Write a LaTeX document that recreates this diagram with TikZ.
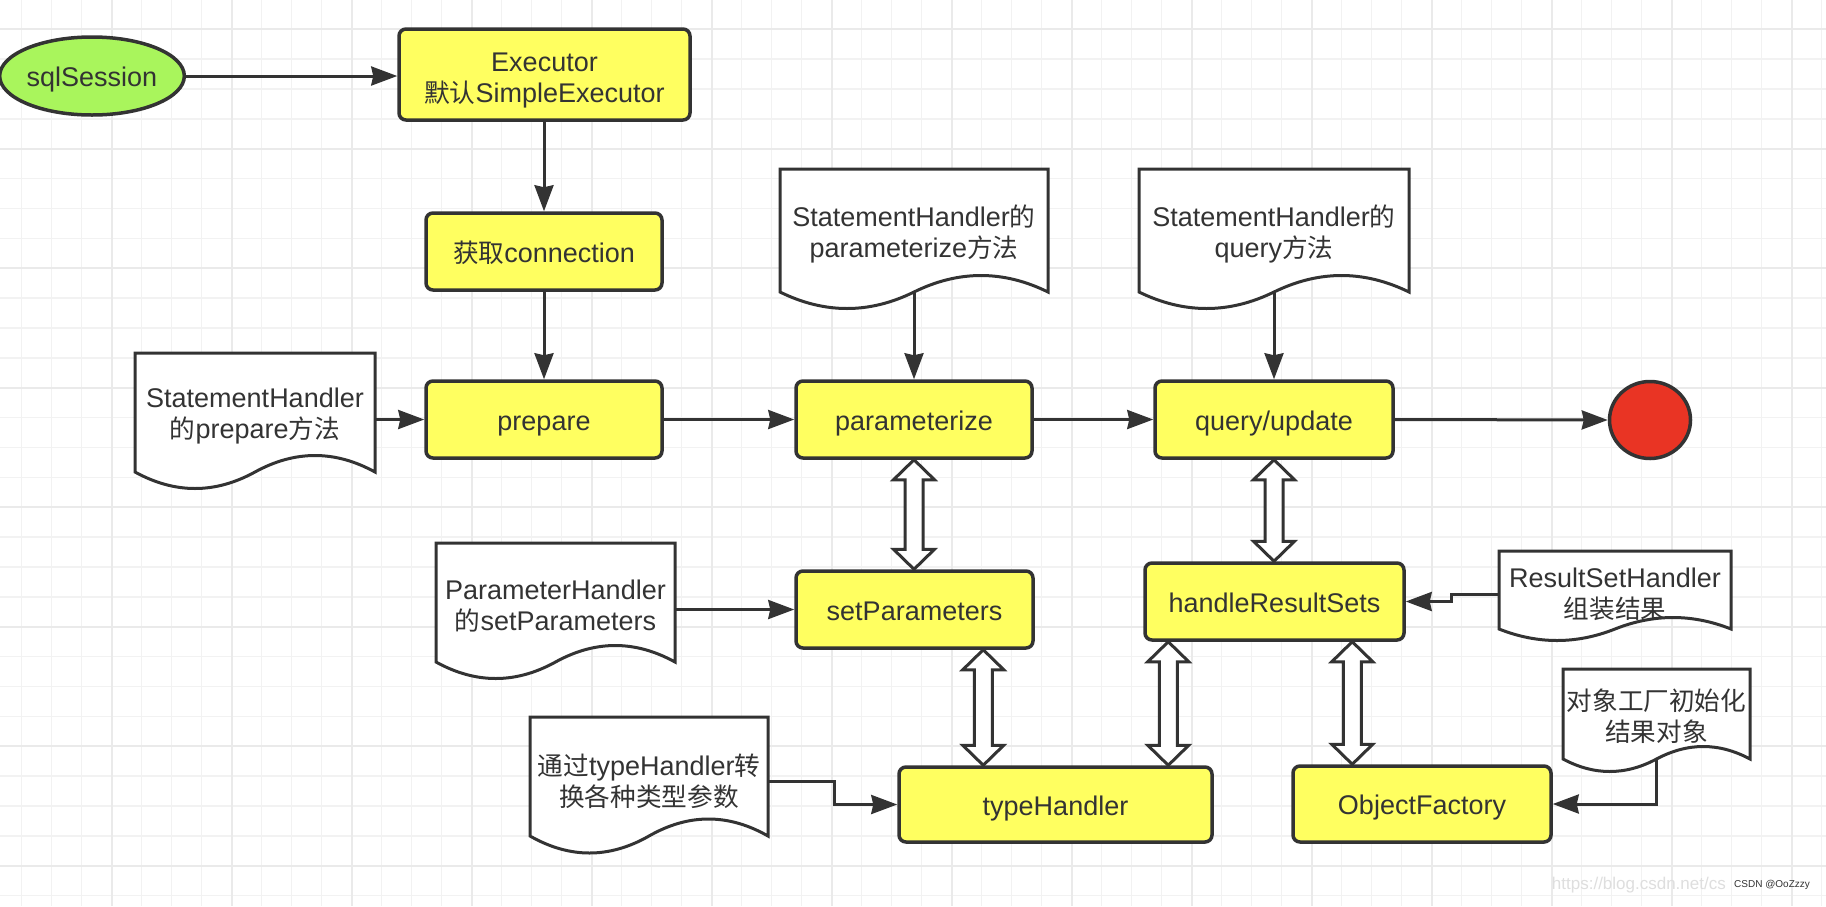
\documentclass[tikz,border=0pt]{standalone}
\usepackage{fontspec}
\setmainfont{Liberation Sans}
\newfontfamily\cjk[Scale=0.95]{Noto Sans CJK SC}
\usetikzlibrary{arrows.meta,calc,shapes.geometric}
\definecolor{ink}{HTML}{333333}
\definecolor{boxyellow}{HTML}{FFFF60}
\definecolor{startgreen}{HTML}{A9F55C}
\definecolor{endred}{HTML}{E93424}
\definecolor{gridminor}{HTML}{F2F2F2}
\definecolor{gridmajor}{HTML}{EAEAEA}
\tikzset{
 every node/.style={font=\fontsize{27}{31}\selectfont, text=ink},
 proc/.style={draw=ink, line width=3.5pt, fill=boxyellow, rounded corners=7pt, inner sep=0pt, align=center},
 oneline/.style={text height=21pt, text depth=0pt},
 doctext/.style={inner sep=0pt, align=center, text width=#1},
 docline/.style={draw=ink, line width=3pt, fill=white},
 flow/.style={draw=ink, line width=3pt, -{Stealth[length=26pt,width=19pt,inset=2pt]}},
 dblarr/.style={draw=ink, line width=3pt, fill=white, line join=miter},
 gminor/.style={draw=gridminor, line width=1.5pt},
 gmajor/.style={draw=gridmajor, line width=2.2pt}
}
\newcommand{\docshape}[5]{%
 \pgfmathsetmacro{\dsW}{#3-#1}%
 \pgfmathsetmacro{\dsM}{#1+\dsW/2}%
 \pgfmathsetmacro{\dsA}{#3-\dsW/6}%
 \pgfmathsetmacro{\dsB}{\dsM+\dsW/6}%
 \pgfmathsetmacro{\dsC}{\dsM-\dsW/6}%
 \pgfmathsetmacro{\dsD}{#1+\dsW/6}%
 \pgfmathsetmacro{\dsU}{#4-1.333*#5}%
 \pgfmathsetmacro{\dsL}{#4+1.333*#5}%
 \draw[docline] (#1,#2) -- (#3,#2) -- (#3,#4) .. controls (\dsA,\dsU) and (\dsB,\dsU) .. (\dsM,#4) .. controls (\dsC,\dsL) and (\dsD,\dsL) .. (#1,#4) -- cycle;%
}
\newcommand{\dblarrow}[2]{%
 \draw[dblarr] let \p1=(#1), \p2=(#2) in
 (\x1,\y1) -- (\x1+20.5pt,\y1-20pt) -- (\x1+9pt,\y1-20pt) -- (\x1+9pt,\y2+20pt) -- (\x1+20.5pt,\y2+20pt) -- (\x1,\y2)
 -- (\x1-20.5pt,\y2+20pt) -- (\x1-9pt,\y2+20pt) -- (\x1-9pt,\y1-20pt) -- (\x1-20.5pt,\y1-20pt) -- cycle;%
}
\begin{document}
\begin{tikzpicture}[x=1pt,y=-1pt]
\useasboundingbox (0,0) rectangle (1826,906);
\fill[white] (0,0) rectangle (1826,906);
% grid
\foreach \i in {0,...,60} \draw[gminor] ({21.6+30*\i},0) -- ({21.6+30*\i},906);
\foreach \i in {-1,...,30} \draw[gminor] (0,{29.3+29.875*\i}) -- (1826,{29.3+29.875*\i});
\foreach \i in {0,...,14} \draw[gmajor] ({111.6+120*\i},0) -- ({111.6+120*\i},906);
\foreach \i in {0,...,7} \draw[gmajor] (0,{29.3+119.5*\i}) -- (1826,{29.3+119.5*\i});

% document shapes
\docshape{135}{353}{375}{472}{16.5}
\docshape{780}{169}{1048}{292}{16.5}
\docshape{1139}{169}{1409}{292}{16.5}
\docshape{436}{543}{675}{662}{16.5}
\docshape{530}{717}{768}{836}{17}
\docshape{1499}{551}{1731}{629}{11.5}
\docshape{1563}{669}{1750}{759}{12.5}

\node[doctext=240pt] (docPrep) at (255,416) {StatementHandler\\{\cjk 的}prepare{\cjk 方法}};
\node[doctext=268pt] (docParam) at (914,233.5) {StatementHandler{\cjk 的}\\parameterize{\cjk 方法}};
\node[doctext=270pt] (docQuery) at (1274,233.5) {StatementHandler{\cjk 的}\\query{\cjk 方法}};
\node[doctext=239pt] (docSetP) at (555.5,606) {ParameterHandler\\{\cjk 的}setParameters};
\node[doctext=238pt] (docType) at (649,781) {{\cjk 通过}typeHandler{\cjk 转}\\{\cjk 换各种类型参数}};
\node[doctext=232pt] (docRSH) at (1615,594) {ResultSetHandler\\{\cjk 组装结果}};
\node[doctext=187pt] (docObj) at (1656.5,716.5) {{\cjk 对象工厂初始化}\\{\cjk 结果对象}};
\coordinate (docParamB) at (914,292);
\coordinate (docQueryB) at (1274,292);
\coordinate (docObjB) at (1656,759);

% process nodes
\node[ellipse, draw=ink, line width=3.5pt, fill=startgreen, minimum width=172pt, minimum height=78pt, inner sep=0pt, oneline] (sql) at (92,76) {sqlSession};
\node[proc, minimum width=291pt, minimum height=91pt] (exec) at (544.5,74.5) {\rule{0pt}{30pt}Executor\\{\cjk 默认}SimpleExecutor};
\node[proc, oneline, minimum width=236pt, minimum height=77pt] (getconn) at (544,251.5) {{\cjk 获取}connection};
\node[proc, oneline, minimum width=236pt, minimum height=77pt] (prep) at (544,419.5) {prepare};
\node[proc, oneline, minimum width=236pt, minimum height=77pt] (param) at (914,419.5) {parameterize};
\node[proc, oneline, minimum width=238pt, minimum height=77pt] (query) at (1274,419.5) {query/update};
\node[ellipse, draw=ink, line width=3.5pt, fill=endred, minimum width=81pt, minimum height=77pt, inner sep=0pt] (stop) at (1650,420) {};
\node[proc, oneline, minimum width=237pt, minimum height=77pt] (setp) at (914.5,609.5) {setParameters};
\node[proc, oneline, minimum width=259pt, minimum height=77pt] (hrs) at (1274.5,601.5) {handleResultSets};
\node[proc, oneline, minimum width=313pt, minimum height=75pt] (typeh) at (1055.5,804.5) {typeHandler};
\node[proc, oneline, minimum width=258pt, minimum height=76pt] (objf) at (1422,804) {ObjectFactory};

% connectors
\draw[flow] (sql.east) -- (sql.east -| exec.west);
\draw[flow] (getconn.north |- exec.south) -- (getconn.north);
\draw[flow] (getconn.south) -- (prep.north);
\draw[flow] (docPrep.east |- prep.west) -- (prep.west);
\draw[flow] (prep.east) -- (param.west);
\draw[flow] (param.east) -- (query.west);
\draw[flow] (query.east) -- (stop.west);
\draw[flow] (docParamB) -- (param.north);
\draw[flow] (docQueryB) -- (query.north);
\draw[flow] (docSetP.east |- setp.west) -- (setp.west);
\draw[flow] (docType.east) -- ++(66,0) |- (typeh.west);
\draw[flow] (docRSH.west) -- ++(-47,0) |- (hrs.east);
\draw[flow] (docObjB) |- (objf.east);

% double block arrows
\dblarrow{param.south}{setp.north}
\dblarrow{query.south}{hrs.north}
\dblarrow{$(setp.south east)+(-51.5,0)$}{typeh.north}
\dblarrow{$(hrs.south west)+(25,0)$}{typeh.north}
\dblarrow{$(hrs.south west)+(209,0)$}{objf.north}

% watermark
\node[anchor=east, inner sep=0pt, text=black!13, font=\fontsize{17}{19}\selectfont] (wm) at (1726,885) {https://blog.csdn.net/cs};
\node[anchor=west, inner sep=0pt, text=ink, font=\fontsize{10}{12}\selectfont] (wm2) at (1734,885) {CSDN @OoZzzy};
\end{tikzpicture}
\end{document}
